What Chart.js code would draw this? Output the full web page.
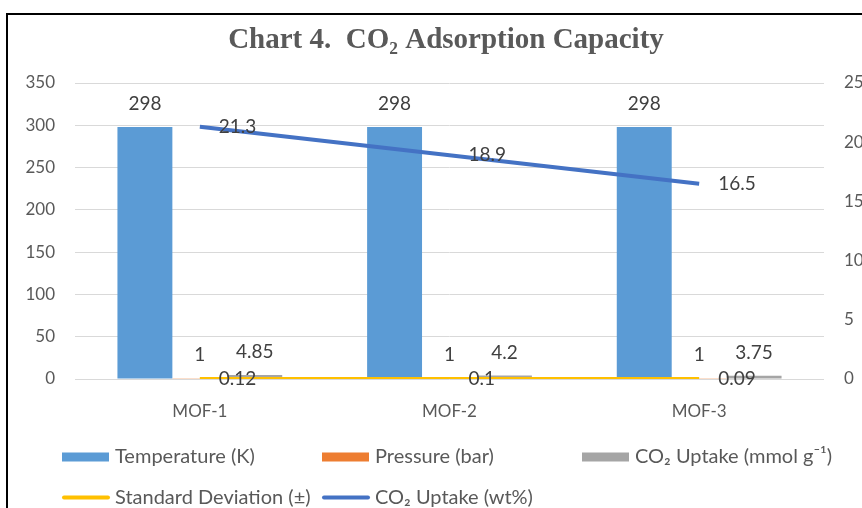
<!DOCTYPE html>
<html>
<head>
<meta charset="utf-8">
<script src="https://cdn.jsdelivr.net/npm/chart.js@4"></script>
<style>
  html, body { margin: 0; padding: 0; background: #fff; overflow: hidden; }
  #frame {
    position: absolute; left: 6px; top: 13px;
    border-left: 2px solid #000; border-top: 2px solid #000;
    width: 876px; height: 520px;
  }
  canvas { display: block; }
</style>
</head>
<body>
<div id="frame"><canvas id="chart" width="876" height="520"></canvas></div>
<script>
// data
const categories = ['MOF-1', 'MOF-2', 'MOF-3'];
const temperatureK = [298, 298, 298];
const pressureBar = [1, 1, 1];
const uptakeMmol = [4.85, 4.2, 3.75];
const stdDeviation = [0.12, 0.1, 0.09];
const uptakeWt = [21.3, 18.9, 16.5];

const leftMax = 350, leftStep = 50;
const rightMax = 25, rightStep = 5;

const textGrey = '#595959';
const labelGrey = '#404040';
const sans = "Lato, 'Open Sans', sans-serif";

// value labels drawn next to each bar / point (Excel style)
const valueLabels = {
  id: 'valueLabels',
  afterDatasetsDraw(chart) {
    const ctx = chart.ctx;
    ctx.save();
    ctx.font = '19px ' + sans;
    ctx.fillStyle = labelGrey;
    chart.data.datasets.forEach((ds, i) => {
      const meta = chart.getDatasetMeta(i);
      meta.data.forEach((el, j) => {
        const txt = String(ds.data[j]);
        ctx.textBaseline = 'middle';
        if (ds.labelPos === 'right') {
          ctx.textAlign = 'left';
          ctx.fillText(txt, el.x + 19, el.y);
        } else {
          ctx.textAlign = 'center';
          ctx.fillText(txt, el.x, el.y - 23);
        }
      });
    });
    ctx.restore();
  }
};

// legend laid out in fixed columns like the original
const gridLegend = {
  id: 'gridLegend',
  afterDraw(chart) {
    const ctx = chart.ctx;
    const a = chart.chartArea;
    const cols = [a.left - 13, a.left + 247, a.left + 507];
    const rows = [a.bottom + 78, a.bottom + 118.5];
    ctx.save();
    ctx.font = '20px ' + sans;
    ctx.textAlign = 'left';
    ctx.textBaseline = 'middle';
    chart.data.datasets.forEach((ds, i) => {
      const x = cols[i % 3], y = rows[Math.floor(i / 3)];
      if (ds.type === 'line') {
        ctx.strokeStyle = ds.borderColor;
        ctx.lineWidth = 4;
        ctx.lineCap = 'round';
        ctx.beginPath();
        ctx.moveTo(x + 2, y);
        ctx.lineTo(x + 46, y);
        ctx.stroke();
      } else {
        ctx.fillStyle = ds.backgroundColor;
        ctx.fillRect(x, y - 4.5, 47, 9);
      }
      ctx.fillStyle = textGrey;
      ctx.fillText(ds.label, x + 53, y);
    });
    ctx.restore();
  }
};

new Chart(document.getElementById('chart'), {
  data: {
    labels: categories,
    datasets: [
      { type: 'bar', label: 'Temperature (K)', data: temperatureK, backgroundColor: '#5B9BD5', yAxisID: 'y', order: 2 },
      { type: 'bar', label: 'Pressure (bar)', data: pressureBar, backgroundColor: '#ED7D31', yAxisID: 'y', order: 2 },
      { type: 'bar', label: 'CO₂ Uptake (mmol g⁻¹)', data: uptakeMmol, backgroundColor: '#A5A5A5', yAxisID: 'y', order: 2 },
      { type: 'line', label: 'Standard Deviation (±)', data: stdDeviation, borderColor: '#FFC000', backgroundColor: '#FFC000',
        borderWidth: 4, pointRadius: 0, yAxisID: 'y', order: 1, labelPos: 'right' },
      { type: 'line', label: 'CO₂ Uptake (wt%)', data: uptakeWt, borderColor: '#4472C4', backgroundColor: '#4472C4',
        borderWidth: 4, pointRadius: 0, yAxisID: 'y1', order: 1, labelPos: 'right' }
    ]
  },
  options: {
    responsive: false,
    animation: false,
    layout: { padding: { top: 0, left: 0, right: 0, bottom: 96 } },
    datasets: {
      bar: { categoryPercentage: 0.66, barPercentage: 1.0 }
    },
    plugins: {
      legend: { display: false },
      tooltip: { enabled: false },
      title: {
        display: true,
        text: 'Chart 4.  CO₂ Adsorption Capacity',
        color: textGrey,
        font: { family: "'Liberation Serif', 'Times New Roman', serif", size: 29, weight: 'bold' },
        padding: { top: 8, bottom: 25.2 }
      }
    },
    scales: {
      x: {
        grid: { display: false },
        border: { display: false },
        ticks: { color: textGrey, font: { family: sans, size: 17 }, padding: 14 },
        afterFit(s) { s.height = 60; }
      },
      y: {
        position: 'left',
        min: 0, max: leftMax,
        ticks: { stepSize: leftStep, color: textGrey, font: { family: sans, size: 17 }, padding: 20 },
        grid: { color: '#D9D9D9', drawTicks: false },
        border: { display: false },
        afterFit(s) { s.width = 67; }
      },
      y1: {
        position: 'right',
        min: 0, max: rightMax,
        ticks: { stepSize: rightStep, color: textGrey, font: { family: sans, size: 17 }, padding: 20 },
        grid: { display: false, drawTicks: false },
        border: { display: false },
        afterFit(s) { s.width = 60; }
      }
    }
  },
  plugins: [valueLabels, gridLegend]
});
</script>
</body>
</html>
